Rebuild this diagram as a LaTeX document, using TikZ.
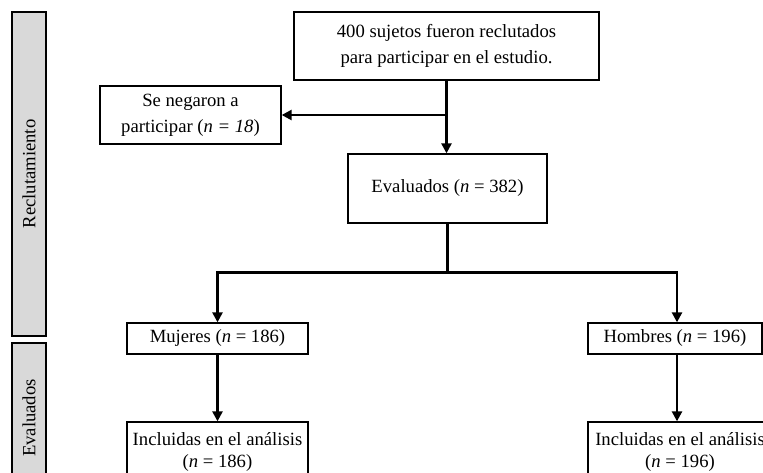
\documentclass[tikz,border=0pt]{standalone}
\usepackage{fontspec}
\setmainfont{Liberation Serif}
\usetikzlibrary{arrows.meta,positioning,calc}
\definecolor{mybargray}{RGB}{217,217,217}
\tikzset{
  flowbox/.style={draw,line width=1pt,align=center,inner sep=0pt,font=\fontsize{14}{17}\selectfont},
  phasebar/.style={draw,fill=mybargray,line width=1.3pt},
  flowarrow/.style={line width=1.8pt,-{Triangle[length=7.5pt,width=7.5pt]}},
}

\begin{document}
\begin{tikzpicture}[x=0.75pt,y=-0.75pt]
    \useasboundingbox (0,0) rectangle (763,472);
    \clip (0,0) rectangle (763,472);
    % fases a la izquierda
    \draw[phasebar] (12,12) rectangle (46,336);
    \draw[phasebar] (12,343) rectangle (46,500);
    \node[rotate=90,font=\fontsize{14}{16}\selectfont] (reclut) at (29,174) {Reclutamiento};
    \node[rotate=90,font=\fontsize{14}{16}\selectfont] (evalfase) at (29,418) {Evaluados};
    % cajas
    \node[flowbox,minimum width=228.75pt,minimum height=51pt,font=\fontsize{14}{20}\selectfont] (total) at (446.5,46) {400 sujetos fueron reclutados\\para participar en el estudio.};
    \node[flowbox,minimum width=135.75pt,minimum height=43.5pt,font=\fontsize{14}{19.5}\selectfont] (negaron) at (190.5,115) {Se negaron a\\participar (\textit{n = 18})};
    \node[flowbox,minimum width=149.25pt,minimum height=51.75pt] (evaluados) at (447.5,188.5) {Evaluados (\textit{n} = 382)};
    \node[flowbox,minimum width=135.75pt,minimum height=23.25pt] (mujeres) at (217.5,338.5) {Mujeres (\textit{n} = 186)};
    \node[flowbox,minimum width=130.5pt,minimum height=23.25pt] (hombres) at (675,338.5) {Hombres (\textit{n} = 196)};
    \node[flowbox,minimum width=135.75pt,minimum height=45pt,font=\fontsize{14}{16}\selectfont] (inclm) at (217.5,452) {Incluidas en el análisis\\(\textit{n} = 186)};
    \node[flowbox,minimum width=138pt,minimum height=45pt,font=\fontsize{14}{16}\selectfont] (inclh) at (680,452) {Incluidas en el análisis\\(\textit{n} = 196)};
    % conectores
    \coordinate (rama) at (total.south |- negaron.east);
    \coordinate (split) at ($(evaluados.south)+(0,49)$);
    \draw[flowarrow] (total.south) -- (total.south |- evaluados.north);
    \draw[flowarrow] (rama) -- (negaron.east);
    \draw[line width=1.8pt] (evaluados.south) -- (split);
    \draw[flowarrow] (split) -| (mujeres.north);
    \draw[flowarrow] (split) -| ($(hombres.north)+(2,0)$);
    \draw[flowarrow] (mujeres.south) -- (inclm.north -| mujeres.south);
    \draw[flowarrow] ($(hombres.south)+(2,0)$) -- ($(hombres.south |- inclh.north)+(2,0)$);
\end{tikzpicture}
\end{document}
